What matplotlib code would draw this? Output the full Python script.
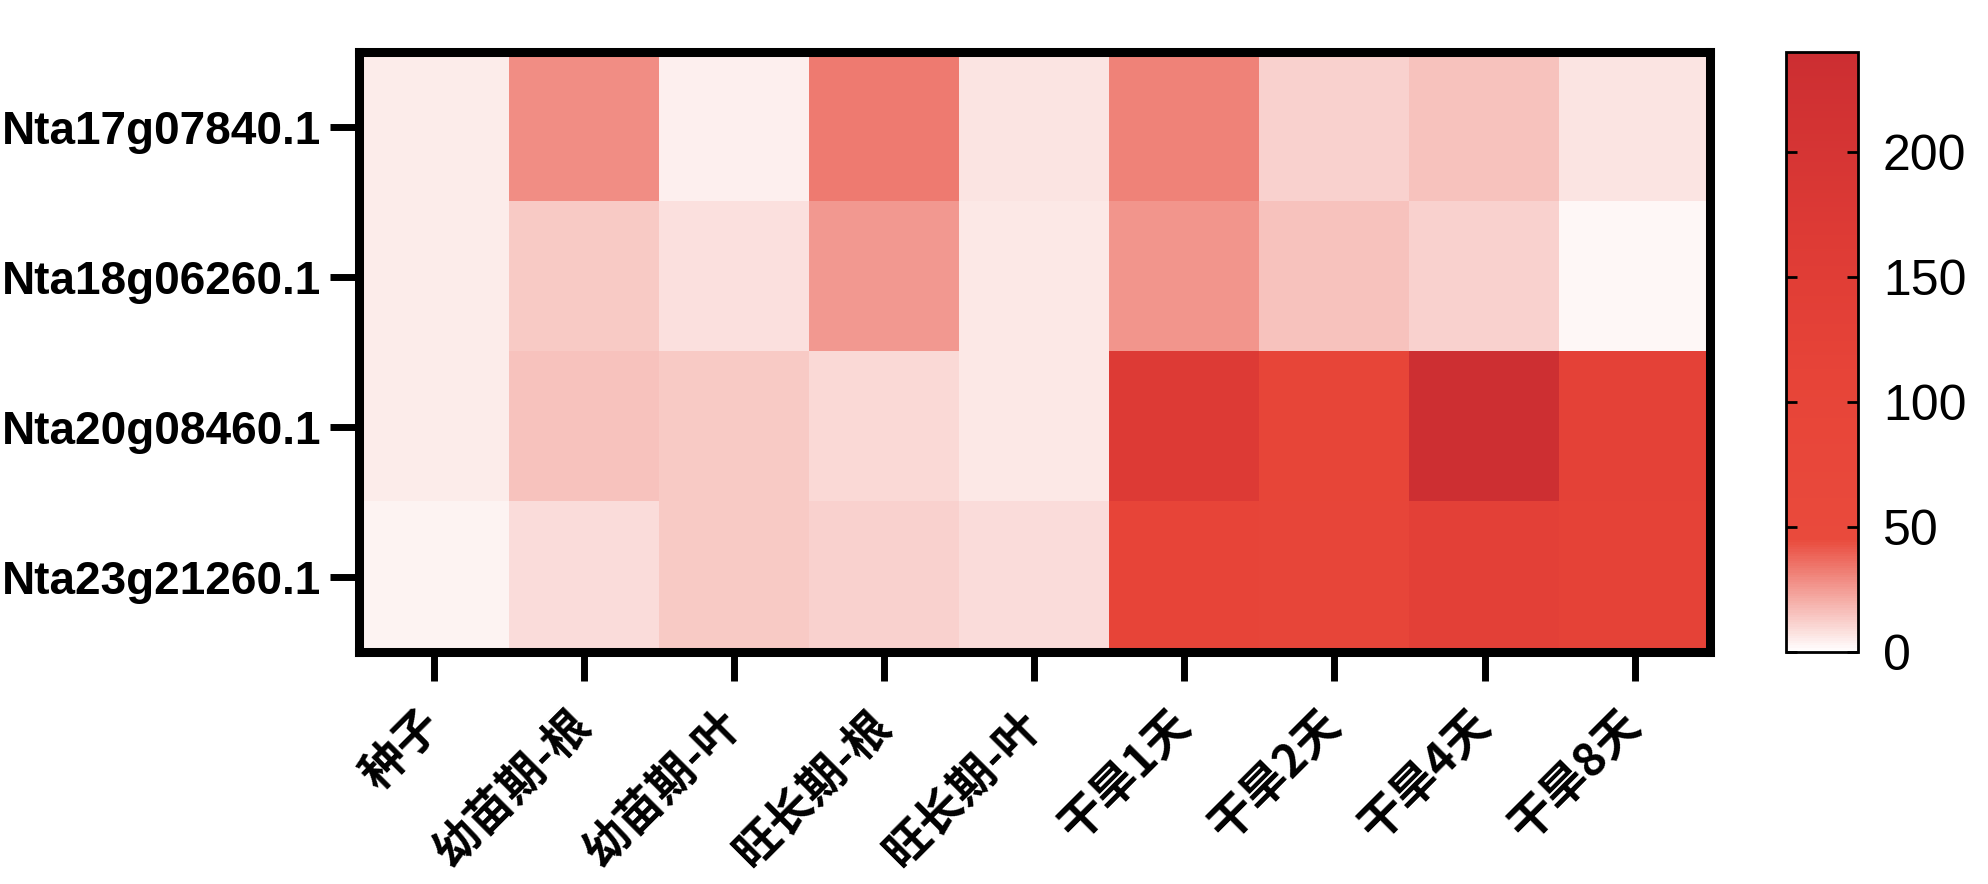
import matplotlib
matplotlib.use("Agg")
import matplotlib.pyplot as plt
import numpy as np
from matplotlib.colors import LinearSegmentedColormap

plt.rcParams['font.family'] = ['Liberation Sans', 'Noto Sans CJK SC', 'DejaVu Sans']

genes = ['Nta17g07840.1', 'Nta18g06260.1', 'Nta20g08460.1', 'Nta23g21260.1']
stages = ['种子', '幼苗期-根', '幼苗期-叶', '旺长期-根', '旺长期-叶',
          '干旱1天', '干旱2天', '干旱4天', '干旱8天']

# expression values
expr = np.array([
    [5.0, 29.0, 4.5, 33.0, 7.0, 31.0, 12.0, 15.0, 7.0],
    [5.0, 14.0, 7.5, 26.0, 6.5, 27.0, 15.0, 12.0, 2.5],
    [5.5, 15.0, 13.5, 10.0, 6.5, 165.0, 95.0, 232.0, 125.0],
    [3.5, 8.5, 13.5, 12.0, 8.5, 100.0, 90.0, 130.0, 120.0],
])

vmin, vmax = 0, 240
cmap = LinearSegmentedColormap.from_list(
    'prism_red',
    [(0.0, '#FFFFFF'), (45 / 240, '#E94A3C'), (110 / 240, '#E74438'),
     (170 / 240, '#DD3A35'), (1.0, '#CC2E32')])

fig = plt.figure(figsize=(19.88, 8.84), dpi=100)
ax = fig.add_axes([0.1805, 0.262, 0.6795, 0.679])
cax = fig.add_axes([0.8985, 0.262, 0.036, 0.679])

im = ax.imshow(expr, cmap=cmap, vmin=vmin, vmax=vmax, aspect='auto',
               interpolation='nearest')

ax.set_xticks(np.arange(len(stages)))
ax.set_xticklabels(stages, rotation=45, ha='right', va='center',
                   rotation_mode='anchor', fontsize=33, fontweight='bold',
                   family=['Noto Sans CJK SC', 'DejaVu Sans'])
ax.set_yticks(np.arange(len(genes)))
ax.set_yticklabels(genes, fontsize=33, fontweight='bold')

for s in ax.spines.values():
    s.set_linewidth(6.5)
ax.tick_params(axis='both', length=21, width=5, pad=6)
ax.tick_params(axis='x', pad=26)

cb = fig.colorbar(im, cax=cax, ticks=[0, 50, 100, 150, 200])
cb.outline.set_linewidth(2)
cax.tick_params(direction='in', left=True, right=True, length=8, width=2,
                labelsize=36, pad=18)

fig.savefig('out.png', dpi=100)
